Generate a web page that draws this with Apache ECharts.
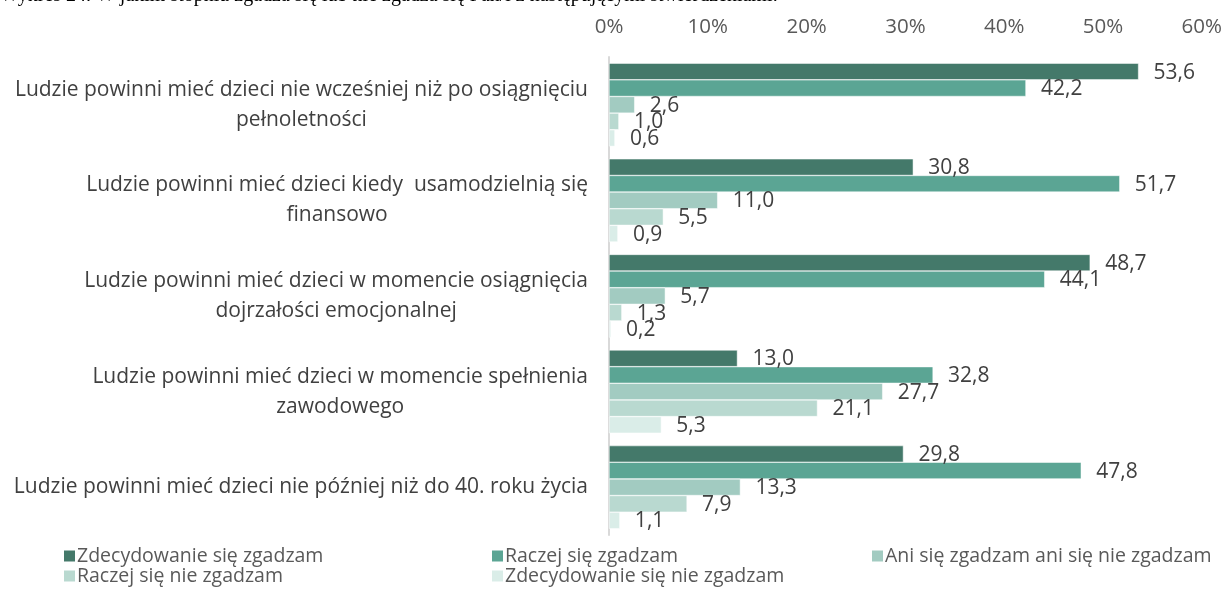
<!doctype html>
<html lang="pl">
<head>
<meta charset="UTF-8"/>
<title>Wykres 24</title>
<script src="https://cdn.jsdelivr.net/npm/echarts@6/dist/echarts.min.js"></script>
<style>
	html, body { margin: 0; padding: 0; background: #fff; }
	#main { width: 1225px; height: 591px; }
</style>
</head>
<body>
<div id="main"></div>
<script type="text/javascript">
// kategorie (od góry)
var categories = [
	'Ludzie powinni mieć dzieci nie wcześniej niż po osiągnięciu\npełnoletności',
	'Ludzie powinni mieć dzieci kiedy  usamodzielnią się\nfinansowo',
	'Ludzie powinni mieć dzieci w momencie osiągnięcia\ndojrzałości emocjonalnej',
	'Ludzie powinni mieć dzieci w momencie spełnienia\nzawodowego',
	'Ludzie powinni mieć dzieci nie później niż do 40. roku życia'
];
var seriesNames = [
	'Zdecydowanie się zgadzam',
	'Raczej się zgadzam',
	'Ani się zgadzam ani się nie zgadzam',
	'Raczej się nie zgadzam',
	'Zdecydowanie się nie zgadzam'
];
var zdecydowanieTak = [53.6, 30.8, 48.7, 13.0, 29.8];
var raczejTak = [42.2, 51.7, 44.1, 32.8, 47.8];
var aniTakAniNie = [2.6, 11.0, 5.7, 27.7, 13.3];
var raczejNie = [1.0, 5.5, 1.3, 21.1, 7.9];
var zdecydowanieNie = [0.6, 0.9, 0.2, 5.3, 1.1];
var xTicks = [0, 10, 20, 30, 40, 50, 60];

var colors = ['#44796a', '#5ba594', '#a2cbc1', '#b9d9d0', '#daede8'];
var values = [zdecydowanieTak, raczejTak, aniTakAniNie, raczejNie, zdecydowanieNie];
var font = '"Open Sans"';

var myChart = echarts.init(document.getElementById('main'));

var series = [];
for (var i = 0; i < values.length; i++) {
	series.push({
		name: seriesNames[i],
		type: 'bar',
		data: values[i],
		barGap: '0%',
		barCategoryGap: '13%',
		itemStyle: { color: colors[i], borderColor: '#ffffff', borderWidth: 0.5 },
		label: {
			show: true,
			position: 'right',
			distance: 15,
			offset: [0, 1],
			color: '#404040',
			fontFamily: font,
			fontSize: 21,
			formatter: function (p) { return p.value.toFixed(1).replace('.', ','); }
		}
	});
}

var legendBase = {
	orient: 'vertical',
	padding: 0,
	height: 60,
	itemWidth: 13,
	itemHeight: 13,
	itemGap: 0,
	icon: 'rect',
	textStyle: { color: '#595959', fontFamily: font, fontSize: 19.5, lineHeight: 20, padding: [0, 0, 0, -4] }
};

option = {
	animation: false,
	color: colors,
	graphic: [{
		type: 'text',
		left: 0,
		top: -14,
		style: {
			text: 'Wykres 24. W jakim stopniu zgadza się lub nie zgadza się Pan/i z następującymi stwierdzeniami:',
			font: '20px "Liberation Serif"',
			fill: '#000'
		}
	}],
	grid: { left: 609, right: 20, top: 57, bottom: 56 },
	legend: [
		Object.assign({ left: 62, top: 546, data: [seriesNames[0], seriesNames[3]] }, legendBase),
		Object.assign({ left: 490, top: 546, data: [seriesNames[1], seriesNames[4]] }, legendBase),
		Object.assign({ left: 870, top: 546, data: [seriesNames[2]] }, legendBase)
	],
	xAxis: {
		type: 'value',
		position: 'top',
		min: xTicks[0],
		max: xTicks[xTicks.length - 1],
		interval: xTicks[1] - xTicks[0],
		axisLine: { show: false },
		axisTick: { show: false },
		splitLine: { show: false },
		axisLabel: {
			margin: 19,
			color: '#595959',
			fontFamily: font,
			fontSize: 20.5,
			formatter: '{value}%'
		}
	},
	yAxis: {
		type: 'category',
		inverse: true,
		data: categories,
		axisTick: { show: false },
		axisLine: { lineStyle: { color: '#d9d9d9', width: 2 } },
		axisLabel: {
			margin: 21,
			color: '#404040',
			fontFamily: font,
			fontSize: 21,
			lineHeight: 30,
			formatter: function (v) {
				return v.split('\n').map(function (l) { return '{c|' + l + '}'; }).join('\n');
			},
			rich: {
				c: { align: 'center', color: '#404040', fontFamily: font, fontSize: 21, lineHeight: 30 }
			}
		}
	},
	series: series
};

myChart.setOption(option);
</script>
</body>
</html>
